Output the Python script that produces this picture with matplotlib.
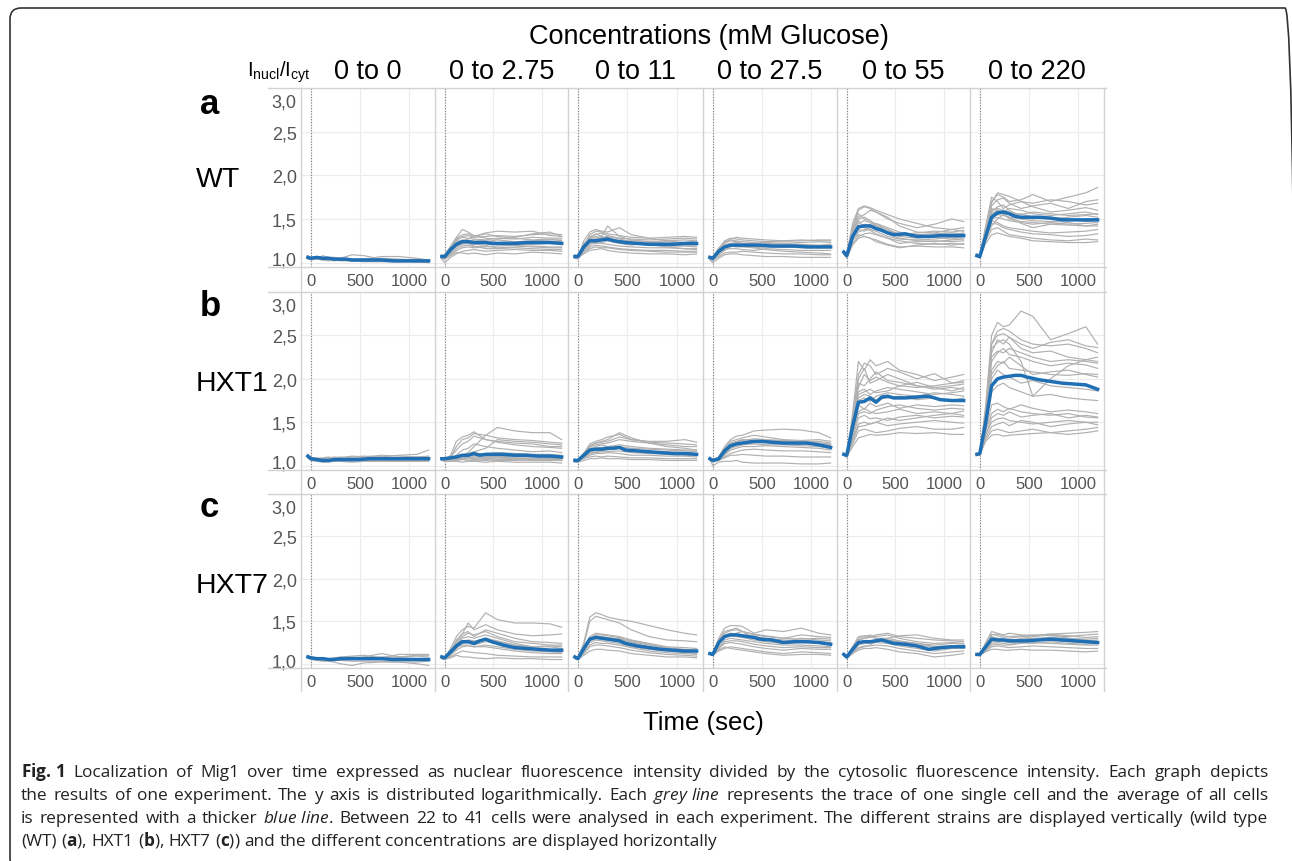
import re
import matplotlib
matplotlib.use("Agg")
import matplotlib.pyplot as plt
from matplotlib.lines import Line2D
from matplotlib.patches import FancyBboxPatch
from matplotlib.transforms import IdentityTransform, ScaledTranslation

# time axis (sec)
t_mean = [-30, 0, 60, 120, 180, 240, 300, 360, 420, 480, 600, 720, 840, 960, 1080, 1200]
t_cell = [-30, 0, 60, 120, 180, 240, 300, 420, 540, 720, 900, 1080, 1200]

concentrations = ["0 to 0", "0 to 2.75", "0 to 11", "0 to 27.5", "0 to 55", "0 to 220"]
strains = ["WT", "HXT1", "HXT7"]
panel_letters = ["a", "b", "c"]
y_ticks = [1.0, 1.5, 2.0, 2.5, 3.0]
y_ticklabels = ["1,0", "1,5", "2,0", "2,5", "3,0"]
x_ticks = [0, 500, 1000]

# average of all cells (blue line), one list per concentration
wt_mean = [
    [1.06, 1.05, 1.06, 1.05, 1.05, 1.04, 1.04, 1.04, 1.03, 1.03, 1.03, 1.03, 1.02, 1.02, 1.02, 1.02],
    [1.07, 1.07, 1.15, 1.21, 1.24, 1.24, 1.23, 1.23, 1.23, 1.22, 1.22, 1.22, 1.23, 1.23, 1.23, 1.22],
    [1.07, 1.07, 1.18, 1.25, 1.25, 1.26, 1.27, 1.25, 1.24, 1.23, 1.22, 1.21, 1.21, 1.21, 1.22, 1.22],
    [1.06, 1.05, 1.13, 1.18, 1.20, 1.20, 1.20, 1.20, 1.20, 1.20, 1.19, 1.19, 1.19, 1.18, 1.18, 1.18],
    [1.12, 1.08, 1.30, 1.41, 1.42, 1.42, 1.39, 1.37, 1.34, 1.32, 1.33, 1.30, 1.30, 1.31, 1.31, 1.31],
    [1.08, 1.07, 1.30, 1.52, 1.57, 1.58, 1.56, 1.53, 1.52, 1.52, 1.52, 1.51, 1.49, 1.49, 1.49, 1.49],
]
hxt1_mean = [
    [1.11, 1.08, 1.07, 1.06, 1.06, 1.07, 1.07, 1.07, 1.07, 1.07, 1.08, 1.08, 1.08, 1.08, 1.08, 1.08],
    [1.08, 1.08, 1.09, 1.10, 1.12, 1.12, 1.14, 1.12, 1.13, 1.13, 1.13, 1.12, 1.12, 1.11, 1.11, 1.10],
    [1.06, 1.06, 1.12, 1.18, 1.19, 1.19, 1.20, 1.20, 1.21, 1.18, 1.17, 1.16, 1.15, 1.14, 1.14, 1.13],
    [1.08, 1.06, 1.08, 1.17, 1.23, 1.25, 1.26, 1.27, 1.28, 1.28, 1.27, 1.26, 1.26, 1.26, 1.24, 1.21],
    [1.13, 1.12, 1.45, 1.73, 1.74, 1.78, 1.73, 1.79, 1.80, 1.78, 1.78, 1.79, 1.80, 1.76, 1.75, 1.75],
    [1.13, 1.14, 1.50, 1.92, 2.00, 2.02, 2.03, 2.04, 2.04, 2.02, 1.99, 1.97, 1.95, 1.94, 1.93, 1.88],
]
hxt7_mean = [
    [1.08, 1.07, 1.06, 1.06, 1.05, 1.05, 1.06, 1.06, 1.06, 1.06, 1.06, 1.06, 1.05, 1.05, 1.05, 1.05],
    [1.08, 1.07, 1.14, 1.21, 1.26, 1.26, 1.24, 1.27, 1.29, 1.26, 1.22, 1.19, 1.18, 1.17, 1.16, 1.16],
    [1.08, 1.06, 1.18, 1.29, 1.31, 1.30, 1.29, 1.28, 1.27, 1.24, 1.21, 1.19, 1.17, 1.16, 1.15, 1.15],
    [1.12, 1.11, 1.25, 1.32, 1.34, 1.34, 1.33, 1.32, 1.31, 1.29, 1.28, 1.25, 1.26, 1.26, 1.25, 1.23],
    [1.11, 1.08, 1.17, 1.25, 1.26, 1.26, 1.27, 1.28, 1.26, 1.24, 1.23, 1.21, 1.17, 1.19, 1.20, 1.20],
    [1.11, 1.11, 1.20, 1.29, 1.28, 1.28, 1.27, 1.27, 1.27, 1.27, 1.28, 1.29, 1.28, 1.27, 1.26, 1.25],
]

# single cell traces (grey lines), per concentration
wt_cells = [
    [
        [1.06, 1.04, 1.05, 1.03, 1.03, 1.02, 1.03, 1.02, 1.02, 1.02, 1.02, 1.01, 1.01],
        [1.07, 1.06, 1.07, 1.05, 1.06, 1.05, 1.04, 1.04, 1.03, 1.05, 1.04, 1.03, 1.03],
        [1.05, 1.05, 1.04, 1.08, 1.06, 1.06, 1.05, 1.09, 1.08, 1.04, 1.03, 1.04, 1.02],
        [1.04, 1.03, 1.04, 1.03, 1.02, 1.03, 1.02, 1.02, 1.01, 1.01, 1.01, 1.01, 1.00],
        [1.08, 1.06, 1.06, 1.06, 1.05, 1.05, 1.05, 1.04, 1.04, 1.07, 1.07, 1.05, 1.03],
        [1.05, 1.04, 1.05, 1.04, 1.04, 1.04, 1.03, 1.03, 1.03, 1.02, 1.02, 1.02, 1.02],
        [1.06, 1.05, 1.05, 1.04, 1.05, 1.04, 1.04, 1.03, 1.04, 1.03, 1.03, 1.03, 1.02],
    ],
    [
        [1.08, 1.05, 1.18, 1.28, 1.32, 1.33, 1.30, 1.34, 1.36, 1.35, 1.36, 1.31, 1.30],
        [1.06, 1.07, 1.12, 1.22, 1.25, 1.27, 1.30, 1.33, 1.30, 1.28, 1.26, 1.27, 1.25],
        [1.07, 1.08, 1.14, 1.20, 1.24, 1.22, 1.21, 1.20, 1.22, 1.20, 1.21, 1.22, 1.21],
        [1.05, 1.06, 1.10, 1.16, 1.19, 1.20, 1.18, 1.19, 1.17, 1.18, 1.19, 1.18, 1.18],
        [1.09, 1.08, 1.16, 1.24, 1.26, 1.25, 1.24, 1.24, 1.26, 1.24, 1.25, 1.26, 1.26],
        [1.04, 1.00, 1.06, 1.10, 1.13, 1.14, 1.15, 1.13, 1.14, 1.15, 1.14, 1.14, 1.13],
        [1.06, 1.07, 1.13, 1.18, 1.21, 1.22, 1.19, 1.16, 1.16, 1.17, 1.16, 1.15, 1.15],
        [1.08, 1.09, 1.19, 1.29, 1.38, 1.35, 1.31, 1.28, 1.27, 1.29, 1.33, 1.35, 1.30],
        [1.05, 1.04, 1.08, 1.12, 1.11, 1.10, 1.11, 1.09, 1.11, 1.10, 1.12, 1.11, 1.10],
        [1.07, 1.06, 1.15, 1.25, 1.30, 1.31, 1.29, 1.30, 1.31, 1.30, 1.32, 1.33, 1.32],
        [1.06, 1.05, 1.11, 1.19, 1.22, 1.24, 1.26, 1.25, 1.23, 1.24, 1.23, 1.24, 1.24],
        [1.08, 1.07, 1.17, 1.27, 1.29, 1.28, 1.27, 1.26, 1.28, 1.27, 1.29, 1.28, 1.28],
        [1.05, 1.04, 1.09, 1.14, 1.17, 1.18, 1.17, 1.18, 1.19, 1.20, 1.18, 1.17, 1.17],
    ],
    [
        [1.07, 1.06, 1.25, 1.35, 1.38, 1.36, 1.35, 1.40, 1.32, 1.28, 1.25, 1.23, 1.25],
        [1.08, 1.07, 1.20, 1.28, 1.33, 1.30, 1.42, 1.30, 1.26, 1.24, 1.22, 1.23, 1.22],
        [1.06, 1.05, 1.15, 1.22, 1.24, 1.26, 1.27, 1.24, 1.22, 1.20, 1.19, 1.19, 1.18],
        [1.07, 1.08, 1.18, 1.30, 1.32, 1.34, 1.31, 1.28, 1.27, 1.26, 1.27, 1.28, 1.27],
        [1.05, 1.04, 1.12, 1.18, 1.20, 1.19, 1.18, 1.16, 1.15, 1.14, 1.14, 1.13, 1.13],
        [1.08, 1.07, 1.22, 1.26, 1.27, 1.29, 1.30, 1.27, 1.24, 1.20, 1.19, 1.20, 1.20],
        [1.06, 1.06, 1.10, 1.14, 1.15, 1.16, 1.14, 1.12, 1.11, 1.10, 1.10, 1.09, 1.10],
        [1.09, 1.08, 1.19, 1.24, 1.22, 1.23, 1.25, 1.22, 1.20, 1.23, 1.24, 1.22, 1.21],
        [1.07, 1.06, 1.16, 1.27, 1.30, 1.28, 1.29, 1.25, 1.23, 1.21, 1.18, 1.16, 1.15],
        [1.07, 1.06, 1.20, 1.32, 1.36, 1.35, 1.33, 1.31, 1.29, 1.28, 1.29, 1.30, 1.29],
        [1.06, 1.05, 1.14, 1.20, 1.23, 1.22, 1.21, 1.19, 1.18, 1.17, 1.17, 1.16, 1.16],
        [1.08, 1.07, 1.21, 1.29, 1.28, 1.30, 1.27, 1.25, 1.25, 1.24, 1.25, 1.26, 1.25],
        [1.05, 1.05, 1.12, 1.16, 1.18, 1.17, 1.17, 1.15, 1.14, 1.13, 1.12, 1.12, 1.12],
    ],
    [
        [1.06, 1.04, 1.16, 1.25, 1.28, 1.27, 1.26, 1.25, 1.24, 1.25, 1.25, 1.26, 1.26],
        [1.05, 1.06, 1.13, 1.20, 1.22, 1.23, 1.21, 1.20, 1.21, 1.22, 1.21, 1.20, 1.21],
        [1.07, 1.05, 1.10, 1.15, 1.16, 1.16, 1.15, 1.14, 1.16, 1.15, 1.14, 1.14, 1.14],
        [1.04, 1.03, 1.07, 1.11, 1.12, 1.12, 1.13, 1.12, 1.11, 1.10, 1.10, 1.09, 1.09],
        [1.06, 1.05, 1.15, 1.24, 1.26, 1.25, 1.24, 1.23, 1.22, 1.21, 1.20, 1.19, 1.18],
        [1.05, 1.02, 1.09, 1.14, 1.18, 1.20, 1.19, 1.17, 1.15, 1.13, 1.12, 1.11, 1.10],
        [1.07, 1.06, 1.17, 1.22, 1.25, 1.24, 1.22, 1.22, 1.23, 1.24, 1.23, 1.24, 1.23],
        [1.03, 1.00, 1.05, 1.09, 1.10, 1.10, 1.09, 1.08, 1.07, 1.07, 1.06, 1.06, 1.06],
        [1.06, 1.05, 1.14, 1.22, 1.27, 1.29, 1.28, 1.27, 1.26, 1.25, 1.26, 1.25, 1.25],
        [1.07, 1.06, 1.12, 1.18, 1.19, 1.18, 1.18, 1.17, 1.18, 1.18, 1.17, 1.17, 1.17],
        [1.05, 1.04, 1.11, 1.16, 1.20, 1.22, 1.21, 1.20, 1.19, 1.18, 1.18, 1.19, 1.20],
    ],
    [
        [1.13, 1.10, 1.40, 1.60, 1.64, 1.62, 1.58, 1.52, 1.42, 1.35, 1.34, 1.38, 1.36],
        [1.12, 1.08, 1.35, 1.52, 1.55, 1.60, 1.58, 1.50, 1.45, 1.40, 1.44, 1.50, 1.47],
        [1.10, 1.07, 1.30, 1.45, 1.48, 1.46, 1.42, 1.34, 1.30, 1.28, 1.30, 1.31, 1.32],
        [1.14, 1.09, 1.35, 1.48, 1.40, 1.38, 1.36, 1.30, 1.27, 1.26, 1.27, 1.29, 1.28],
        [1.11, 1.06, 1.25, 1.35, 1.38, 1.37, 1.33, 1.28, 1.22, 1.24, 1.25, 1.24, 1.25],
        [1.12, 1.08, 1.28, 1.38, 1.36, 1.40, 1.45, 1.40, 1.35, 1.31, 1.30, 1.32, 1.34],
        [1.10, 1.05, 1.20, 1.28, 1.30, 1.28, 1.26, 1.21, 1.18, 1.19, 1.18, 1.18, 1.17],
        [1.13, 1.09, 1.38, 1.56, 1.50, 1.48, 1.42, 1.38, 1.32, 1.30, 1.29, 1.27, 1.30],
        [1.12, 1.08, 1.30, 1.42, 1.44, 1.43, 1.40, 1.36, 1.33, 1.32, 1.33, 1.34, 1.33],
        [1.11, 1.07, 1.26, 1.32, 1.30, 1.28, 1.24, 1.20, 1.17, 1.20, 1.22, 1.20, 1.22],
        [1.12, 1.09, 1.45, 1.62, 1.65, 1.63, 1.60, 1.55, 1.50, 1.45, 1.40, 1.38, 1.40],
        [1.11, 1.08, 1.32, 1.50, 1.52, 1.48, 1.44, 1.38, 1.32, 1.34, 1.36, 1.35, 1.37],
        [1.13, 1.07, 1.28, 1.40, 1.42, 1.44, 1.40, 1.33, 1.28, 1.25, 1.24, 1.26, 1.27],
        [1.10, 1.06, 1.22, 1.30, 1.33, 1.34, 1.32, 1.28, 1.25, 1.22, 1.21, 1.22, 1.21],
    ],
    [
        [1.09, 1.07, 1.40, 1.70, 1.78, 1.75, 1.70, 1.72, 1.78, 1.70, 1.75, 1.80, 1.86],
        [1.08, 1.06, 1.35, 1.65, 1.72, 1.74, 1.68, 1.62, 1.65, 1.68, 1.62, 1.70, 1.72],
        [1.10, 1.08, 1.38, 1.60, 1.62, 1.60, 1.58, 1.55, 1.58, 1.56, 1.54, 1.55, 1.56],
        [1.07, 1.05, 1.30, 1.52, 1.55, 1.54, 1.52, 1.50, 1.48, 1.47, 1.48, 1.49, 1.50],
        [1.09, 1.08, 1.32, 1.48, 1.46, 1.42, 1.40, 1.38, 1.36, 1.34, 1.35, 1.36, 1.38],
        [1.08, 1.06, 1.25, 1.38, 1.40, 1.36, 1.32, 1.30, 1.28, 1.26, 1.25, 1.27, 1.26],
        [1.10, 1.07, 1.42, 1.75, 1.70, 1.62, 1.66, 1.70, 1.64, 1.58, 1.60, 1.63, 1.60],
        [1.07, 1.06, 1.28, 1.42, 1.50, 1.55, 1.52, 1.45, 1.40, 1.44, 1.46, 1.42, 1.44],
        [1.09, 1.07, 1.36, 1.58, 1.64, 1.66, 1.60, 1.52, 1.50, 1.52, 1.50, 1.47, 1.48],
        [1.08, 1.05, 1.22, 1.32, 1.34, 1.32, 1.30, 1.28, 1.25, 1.24, 1.23, 1.23, 1.24],
        [1.10, 1.08, 1.40, 1.62, 1.60, 1.56, 1.50, 1.47, 1.46, 1.44, 1.43, 1.42, 1.42],
        [1.08, 1.06, 1.38, 1.68, 1.80, 1.78, 1.76, 1.70, 1.68, 1.72, 1.70, 1.66, 1.68],
        [1.09, 1.07, 1.34, 1.56, 1.60, 1.58, 1.62, 1.60, 1.56, 1.54, 1.56, 1.58, 1.55],
        [1.07, 1.06, 1.30, 1.50, 1.52, 1.50, 1.48, 1.46, 1.44, 1.46, 1.44, 1.45, 1.46],
        [1.10, 1.08, 1.35, 1.55, 1.58, 1.57, 1.55, 1.56, 1.52, 1.50, 1.52, 1.54, 1.52],
        [1.08, 1.07, 1.28, 1.45, 1.44, 1.40, 1.38, 1.35, 1.33, 1.32, 1.30, 1.31, 1.33],
    ],
]
hxt1_cells = [
    [
        [1.12, 1.09, 1.08, 1.07, 1.08, 1.07, 1.08, 1.07, 1.08, 1.09, 1.08, 1.08, 1.09],
        [1.10, 1.08, 1.06, 1.05, 1.06, 1.06, 1.05, 1.06, 1.07, 1.06, 1.06, 1.07, 1.07],
        [1.11, 1.07, 1.07, 1.08, 1.09, 1.10, 1.09, 1.10, 1.11, 1.10, 1.12, 1.13, 1.18],
        [1.09, 1.06, 1.05, 1.04, 1.04, 1.05, 1.05, 1.04, 1.05, 1.05, 1.05, 1.06, 1.06],
        [1.12, 1.09, 1.09, 1.08, 1.07, 1.09, 1.10, 1.09, 1.09, 1.10, 1.09, 1.10, 1.10],
        [1.10, 1.07, 1.06, 1.06, 1.05, 1.06, 1.07, 1.06, 1.06, 1.07, 1.07, 1.06, 1.07],
        [1.11, 1.08, 1.07, 1.07, 1.06, 1.07, 1.08, 1.08, 1.07, 1.08, 1.08, 1.09, 1.08],
        [1.09, 1.07, 1.05, 1.05, 1.05, 1.05, 1.06, 1.05, 1.06, 1.06, 1.05, 1.05, 1.05],
        [1.12, 1.09, 1.08, 1.09, 1.10, 1.08, 1.09, 1.11, 1.10, 1.12, 1.11, 1.10, 1.11],
    ],
    [
        [1.08, 1.07, 1.12, 1.28, 1.33, 1.35, 1.39, 1.30, 1.28, 1.26, 1.25, 1.22, 1.22],
        [1.09, 1.08, 1.10, 1.22, 1.30, 1.32, 1.37, 1.35, 1.32, 1.30, 1.29, 1.27, 1.26],
        [1.07, 1.06, 1.08, 1.10, 1.12, 1.15, 1.22, 1.35, 1.44, 1.40, 1.38, 1.38, 1.30],
        [1.08, 1.07, 1.07, 1.08, 1.09, 1.09, 1.10, 1.10, 1.10, 1.09, 1.09, 1.08, 1.08],
        [1.06, 1.05, 1.06, 1.06, 1.07, 1.06, 1.06, 1.07, 1.06, 1.06, 1.07, 1.06, 1.06],
        [1.08, 1.07, 1.09, 1.12, 1.18, 1.20, 1.25, 1.22, 1.20, 1.18, 1.16, 1.17, 1.15],
        [1.07, 1.07, 1.07, 1.08, 1.08, 1.09, 1.08, 1.08, 1.09, 1.08, 1.07, 1.07, 1.07],
        [1.09, 1.08, 1.08, 1.09, 1.10, 1.11, 1.12, 1.11, 1.11, 1.10, 1.11, 1.10, 1.10],
        [1.07, 1.05, 1.05, 1.05, 1.04, 1.05, 1.05, 1.04, 1.05, 1.04, 1.04, 1.04, 1.03],
        [1.08, 1.07, 1.08, 1.10, 1.12, 1.14, 1.16, 1.20, 1.30, 1.28, 1.27, 1.25, 1.24],
        [1.08, 1.07, 1.10, 1.18, 1.25, 1.28, 1.34, 1.30, 1.27, 1.24, 1.22, 1.21, 1.20],
        [1.07, 1.06, 1.06, 1.07, 1.07, 1.08, 1.07, 1.06, 1.07, 1.07, 1.06, 1.06, 1.06],
        [1.08, 1.07, 1.08, 1.10, 1.11, 1.12, 1.14, 1.14, 1.15, 1.14, 1.13, 1.13, 1.12],
        [1.06, 1.06, 1.07, 1.08, 1.09, 1.10, 1.10, 1.09, 1.09, 1.08, 1.08, 1.08, 1.08],
    ],
    [
        [1.06, 1.05, 1.14, 1.25, 1.28, 1.30, 1.33, 1.36, 1.30, 1.28, 1.28, 1.30, 1.27],
        [1.07, 1.06, 1.15, 1.22, 1.24, 1.25, 1.26, 1.30, 1.28, 1.26, 1.24, 1.22, 1.22],
        [1.05, 1.04, 1.10, 1.16, 1.18, 1.18, 1.19, 1.20, 1.18, 1.16, 1.16, 1.15, 1.14],
        [1.06, 1.06, 1.08, 1.12, 1.14, 1.14, 1.15, 1.14, 1.12, 1.12, 1.11, 1.11, 1.10],
        [1.04, 1.04, 1.06, 1.08, 1.08, 1.09, 1.08, 1.08, 1.07, 1.07, 1.06, 1.06, 1.06],
        [1.06, 1.05, 1.12, 1.20, 1.22, 1.24, 1.22, 1.24, 1.22, 1.20, 1.19, 1.18, 1.18],
        [1.08, 1.06, 1.10, 1.14, 1.16, 1.17, 1.18, 1.20, 1.17, 1.15, 1.14, 1.13, 1.13],
        [1.05, 1.05, 1.09, 1.10, 1.11, 1.10, 1.11, 1.10, 1.09, 1.09, 1.08, 1.08, 1.08],
        [1.07, 1.06, 1.13, 1.22, 1.26, 1.28, 1.30, 1.38, 1.32, 1.26, 1.22, 1.20, 1.18],
        [1.06, 1.05, 1.13, 1.23, 1.26, 1.27, 1.28, 1.33, 1.30, 1.27, 1.26, 1.25, 1.24],
        [1.05, 1.05, 1.09, 1.14, 1.15, 1.16, 1.16, 1.17, 1.15, 1.14, 1.13, 1.12, 1.12],
        [1.07, 1.06, 1.11, 1.18, 1.20, 1.21, 1.22, 1.22, 1.20, 1.19, 1.18, 1.17, 1.16],
    ],
    [
        [1.08, 1.06, 1.10, 1.22, 1.30, 1.34, 1.35, 1.40, 1.41, 1.42, 1.41, 1.38, 1.32],
        [1.07, 1.05, 1.08, 1.20, 1.28, 1.30, 1.32, 1.35, 1.33, 1.30, 1.29, 1.30, 1.28],
        [1.09, 1.06, 1.07, 1.14, 1.22, 1.25, 1.27, 1.28, 1.29, 1.28, 1.27, 1.26, 1.25],
        [1.06, 1.05, 1.06, 1.12, 1.18, 1.20, 1.22, 1.22, 1.23, 1.22, 1.21, 1.20, 1.18],
        [1.08, 1.04, 1.06, 1.10, 1.14, 1.16, 1.18, 1.19, 1.18, 1.17, 1.17, 1.16, 1.15],
        [1.07, 1.00, 1.04, 1.05, 1.05, 1.06, 1.04, 1.03, 1.03, 1.03, 1.02, 1.02, 1.03],
        [1.08, 1.06, 1.09, 1.18, 1.26, 1.28, 1.30, 1.29, 1.27, 1.26, 1.27, 1.26, 1.24],
        [1.07, 1.06, 1.06, 1.09, 1.12, 1.12, 1.13, 1.12, 1.11, 1.11, 1.10, 1.10, 1.10],
        [1.08, 1.05, 1.08, 1.16, 1.24, 1.27, 1.29, 1.31, 1.30, 1.29, 1.28, 1.28, 1.26],
        [1.07, 1.06, 1.07, 1.13, 1.20, 1.22, 1.24, 1.25, 1.24, 1.24, 1.23, 1.22, 1.20],
        [1.09, 1.05, 1.07, 1.15, 1.20, 1.24, 1.26, 1.26, 1.27, 1.26, 1.25, 1.25, 1.23],
    ],
    [
        [1.13, 1.12, 1.60, 2.20, 2.10, 2.22, 2.15, 2.20, 2.10, 2.05, 1.98, 2.02, 2.05],
        [1.12, 1.10, 1.55, 2.05, 2.18, 2.15, 2.05, 2.12, 2.08, 2.00, 2.06, 1.95, 1.98],
        [1.14, 1.12, 1.50, 1.95, 1.92, 2.00, 2.08, 1.98, 1.96, 1.92, 1.90, 1.92, 1.94],
        [1.13, 1.11, 1.45, 1.85, 1.88, 1.82, 1.86, 1.90, 1.88, 1.85, 1.82, 1.84, 1.86],
        [1.12, 1.10, 1.48, 1.78, 1.82, 1.80, 1.76, 1.78, 1.80, 1.76, 1.78, 1.75, 1.78],
        [1.14, 1.12, 1.40, 1.70, 1.65, 1.72, 1.68, 1.72, 1.66, 1.70, 1.68, 1.70, 1.69],
        [1.13, 1.11, 1.38, 1.62, 1.66, 1.62, 1.60, 1.62, 1.65, 1.60, 1.62, 1.60, 1.63],
        [1.12, 1.10, 1.32, 1.55, 1.58, 1.54, 1.55, 1.52, 1.56, 1.58, 1.55, 1.57, 1.56],
        [1.13, 1.12, 1.30, 1.48, 1.50, 1.48, 1.50, 1.46, 1.48, 1.50, 1.52, 1.50, 1.49],
        [1.12, 1.11, 1.25, 1.40, 1.42, 1.40, 1.38, 1.40, 1.43, 1.45, 1.42, 1.42, 1.44],
        [1.13, 1.10, 1.22, 1.32, 1.34, 1.36, 1.35, 1.36, 1.38, 1.37, 1.38, 1.36, 1.36],
        [1.14, 1.11, 1.50, 2.00, 2.12, 1.95, 1.98, 2.05, 2.00, 1.92, 1.88, 1.90, 1.88],
        [1.13, 1.11, 1.52, 1.90, 2.05, 1.98, 2.02, 1.96, 1.92, 1.96, 1.90, 1.86, 1.90],
        [1.12, 1.10, 1.42, 1.75, 1.78, 1.74, 1.80, 1.84, 1.82, 1.80, 1.84, 1.82, 1.80],
        [1.14, 1.11, 1.36, 1.60, 1.62, 1.60, 1.64, 1.68, 1.70, 1.66, 1.64, 1.66, 1.65],
        [1.13, 1.12, 1.28, 1.45, 1.46, 1.48, 1.50, 1.55, 1.52, 1.55, 1.58, 1.60, 1.58],
        [1.12, 1.10, 1.46, 1.82, 1.85, 1.88, 1.84, 1.86, 1.92, 1.90, 1.92, 1.95, 1.96],
    ],
    [
        [1.14, 1.12, 1.70, 2.50, 2.65, 2.60, 2.62, 2.78, 2.72, 2.45, 2.52, 2.60, 2.40],
        [1.13, 1.14, 1.65, 2.40, 2.55, 2.58, 2.55, 2.45, 2.40, 2.38, 2.40, 2.35, 2.30],
        [1.12, 1.13, 1.60, 2.30, 2.45, 2.40, 2.48, 2.35, 2.30, 2.32, 2.25, 2.22, 2.20],
        [1.14, 1.12, 1.55, 2.20, 2.30, 2.35, 2.28, 2.25, 2.20, 2.15, 2.18, 2.16, 2.12],
        [1.13, 1.14, 1.50, 2.10, 2.20, 2.18, 2.25, 2.15, 2.05, 2.08, 2.10, 2.05, 2.02],
        [1.12, 1.13, 1.45, 2.00, 2.10, 2.05, 2.02, 1.95, 1.98, 1.92, 1.90, 1.88, 1.86],
        [1.14, 1.12, 1.45, 1.85, 1.92, 1.95, 1.90, 1.85, 1.80, 1.82, 1.78, 1.76, 1.75],
        [1.13, 1.14, 1.40, 1.70, 1.72, 1.68, 1.65, 1.70, 1.66, 1.62, 1.64, 1.62, 1.60],
        [1.12, 1.13, 1.35, 1.55, 1.60, 1.58, 1.62, 1.56, 1.58, 1.60, 1.55, 1.58, 1.56],
        [1.14, 1.12, 1.32, 1.45, 1.48, 1.50, 1.46, 1.52, 1.50, 1.45, 1.48, 1.50, 1.47],
        [1.13, 1.12, 1.30, 1.40, 1.42, 1.40, 1.38, 1.40, 1.42, 1.38, 1.40, 1.42, 1.44],
        [1.12, 1.13, 1.28, 1.35, 1.36, 1.34, 1.35, 1.36, 1.37, 1.38, 1.36, 1.38, 1.40],
        [1.13, 1.12, 1.60, 2.35, 2.42, 2.45, 2.40, 2.20, 1.80, 2.00, 2.15, 2.22, 2.25],
        [1.13, 1.12, 1.62, 2.40, 2.50, 2.52, 2.48, 2.40, 2.35, 2.42, 2.45, 2.38, 2.36],
        [1.12, 1.13, 1.55, 2.25, 2.32, 2.30, 2.35, 2.30, 2.25, 2.20, 2.22, 2.20, 2.18],
        [1.14, 1.12, 1.40, 1.60, 1.65, 1.62, 1.66, 1.62, 1.60, 1.58, 1.60, 1.56, 1.55],
        [1.13, 1.13, 1.36, 1.50, 1.54, 1.55, 1.52, 1.50, 1.48, 1.50, 1.52, 1.50, 1.50],
        [1.12, 1.12, 1.50, 2.05, 2.15, 2.20, 2.12, 2.10, 2.08, 2.05, 2.04, 2.06, 2.05],
    ],
]
hxt7_cells = [
    [
        [1.09, 1.07, 1.06, 1.05, 1.05, 1.05, 1.06, 1.07, 1.08, 1.12, 1.08, 1.10, 1.10],
        [1.08, 1.06, 1.05, 1.04, 1.04, 1.05, 1.05, 1.06, 1.05, 1.06, 1.05, 1.04, 1.04],
        [1.10, 1.08, 1.07, 1.07, 1.06, 1.06, 1.07, 1.08, 1.07, 1.08, 1.08, 1.09, 1.08],
        [1.07, 1.05, 1.04, 1.03, 1.03, 1.02, 1.00, 0.98, 1.01, 1.02, 1.02, 1.00, 0.98],
        [1.08, 1.07, 1.06, 1.06, 1.06, 1.07, 1.08, 1.09, 1.10, 1.07, 1.11, 1.11, 1.11],
        [1.09, 1.06, 1.04, 1.04, 1.04, 1.04, 1.04, 1.03, 1.03, 1.03, 1.02, 1.02, 1.03],
        [1.08, 1.06, 1.05, 1.05, 1.05, 1.06, 1.06, 1.05, 1.06, 1.06, 1.07, 1.06, 1.06],
        [1.09, 1.07, 1.06, 1.05, 1.06, 1.05, 1.06, 1.06, 1.07, 1.06, 1.06, 1.05, 1.05],
    ],
    [
        [1.09, 1.07, 1.18, 1.32, 1.40, 1.44, 1.42, 1.60, 1.52, 1.48, 1.48, 1.47, 1.43],
        [1.08, 1.07, 1.15, 1.28, 1.35, 1.48, 1.40, 1.46, 1.40, 1.35, 1.33, 1.34, 1.35],
        [1.07, 1.06, 1.13, 1.22, 1.30, 1.32, 1.30, 1.34, 1.30, 1.24, 1.20, 1.20, 1.18],
        [1.08, 1.07, 1.12, 1.20, 1.24, 1.25, 1.22, 1.26, 1.24, 1.20, 1.18, 1.17, 1.16],
        [1.06, 1.05, 1.10, 1.16, 1.20, 1.21, 1.20, 1.22, 1.20, 1.17, 1.15, 1.14, 1.13],
        [1.09, 1.08, 1.14, 1.24, 1.32, 1.36, 1.34, 1.38, 1.32, 1.26, 1.24, 1.22, 1.22],
        [1.07, 1.06, 1.08, 1.12, 1.15, 1.14, 1.13, 1.12, 1.10, 1.09, 1.08, 1.08, 1.08],
        [1.08, 1.07, 1.12, 1.18, 1.26, 1.28, 1.27, 1.28, 1.26, 1.22, 1.20, 1.21, 1.20],
        [1.06, 1.05, 1.07, 1.10, 1.08, 1.08, 1.07, 1.06, 1.07, 1.06, 1.06, 1.05, 1.05],
        [1.07, 1.06, 1.14, 1.26, 1.35, 1.38, 1.32, 1.40, 1.36, 1.30, 1.26, 1.25, 1.24],
        [1.08, 1.07, 1.12, 1.20, 1.22, 1.22, 1.20, 1.20, 1.18, 1.15, 1.13, 1.12, 1.12],
        [1.06, 1.06, 1.10, 1.18, 1.24, 1.26, 1.25, 1.30, 1.27, 1.22, 1.18, 1.17, 1.17],
    ],
    [
        [1.09, 1.07, 1.25, 1.55, 1.60, 1.58, 1.55, 1.52, 1.50, 1.45, 1.40, 1.36, 1.34],
        [1.08, 1.07, 1.22, 1.50, 1.56, 1.54, 1.52, 1.48, 1.40, 1.32, 1.28, 1.27, 1.26],
        [1.07, 1.06, 1.18, 1.32, 1.36, 1.35, 1.34, 1.32, 1.28, 1.24, 1.20, 1.19, 1.18],
        [1.08, 1.07, 1.20, 1.30, 1.33, 1.32, 1.31, 1.29, 1.26, 1.22, 1.18, 1.16, 1.15],
        [1.06, 1.05, 1.15, 1.25, 1.28, 1.27, 1.26, 1.24, 1.20, 1.17, 1.15, 1.13, 1.12],
        [1.07, 1.06, 1.12, 1.20, 1.22, 1.22, 1.21, 1.19, 1.16, 1.13, 1.11, 1.10, 1.09],
        [1.08, 1.06, 1.16, 1.27, 1.30, 1.30, 1.30, 1.28, 1.23, 1.19, 1.16, 1.14, 1.14],
        [1.07, 1.05, 1.10, 1.15, 1.17, 1.17, 1.16, 1.15, 1.12, 1.10, 1.08, 1.08, 1.07],
        [1.07, 1.06, 1.17, 1.30, 1.34, 1.34, 1.33, 1.31, 1.27, 1.23, 1.19, 1.17, 1.16],
        [1.08, 1.06, 1.19, 1.28, 1.32, 1.31, 1.30, 1.30, 1.25, 1.20, 1.17, 1.15, 1.15],
        [1.06, 1.05, 1.13, 1.22, 1.25, 1.24, 1.24, 1.22, 1.19, 1.15, 1.13, 1.12, 1.11],
    ],
    [
        [1.12, 1.11, 1.30, 1.42, 1.45, 1.45, 1.44, 1.36, 1.40, 1.38, 1.42, 1.36, 1.34],
        [1.11, 1.10, 1.28, 1.38, 1.40, 1.42, 1.38, 1.34, 1.32, 1.30, 1.34, 1.32, 1.31],
        [1.12, 1.11, 1.25, 1.34, 1.36, 1.35, 1.34, 1.32, 1.30, 1.28, 1.27, 1.26, 1.25],
        [1.11, 1.10, 1.20, 1.28, 1.30, 1.29, 1.28, 1.26, 1.24, 1.22, 1.22, 1.21, 1.20],
        [1.13, 1.11, 1.18, 1.24, 1.25, 1.24, 1.23, 1.20, 1.18, 1.16, 1.18, 1.17, 1.17],
        [1.12, 1.10, 1.15, 1.18, 1.20, 1.19, 1.18, 1.16, 1.14, 1.12, 1.14, 1.13, 1.12],
        [1.11, 1.10, 1.22, 1.32, 1.34, 1.36, 1.38, 1.30, 1.28, 1.26, 1.30, 1.28, 1.27],
        [1.12, 1.11, 1.16, 1.20, 1.18, 1.17, 1.16, 1.14, 1.12, 1.10, 1.11, 1.11, 1.10],
        [1.12, 1.11, 1.26, 1.36, 1.39, 1.40, 1.38, 1.35, 1.33, 1.30, 1.29, 1.30, 1.29],
        [1.11, 1.10, 1.24, 1.32, 1.33, 1.32, 1.31, 1.28, 1.26, 1.24, 1.25, 1.24, 1.22],
        [1.12, 1.10, 1.18, 1.26, 1.27, 1.27, 1.26, 1.23, 1.21, 1.19, 1.20, 1.19, 1.19],
    ],
    [
        [1.11, 1.08, 1.20, 1.32, 1.33, 1.32, 1.34, 1.36, 1.32, 1.30, 1.28, 1.27, 1.26],
        [1.10, 1.07, 1.18, 1.28, 1.30, 1.31, 1.32, 1.34, 1.30, 1.26, 1.24, 1.25, 1.24],
        [1.11, 1.08, 1.17, 1.25, 1.27, 1.27, 1.28, 1.28, 1.25, 1.22, 1.20, 1.21, 1.21],
        [1.12, 1.09, 1.15, 1.22, 1.24, 1.24, 1.25, 1.24, 1.21, 1.18, 1.15, 1.18, 1.19],
        [1.10, 1.07, 1.14, 1.19, 1.21, 1.21, 1.22, 1.21, 1.18, 1.15, 1.12, 1.14, 1.15],
        [1.11, 1.06, 1.12, 1.16, 1.18, 1.18, 1.19, 1.17, 1.14, 1.12, 1.08, 1.10, 1.12],
        [1.12, 1.08, 1.18, 1.30, 1.32, 1.34, 1.30, 1.28, 1.26, 1.24, 1.20, 1.20, 1.18],
        [1.10, 1.07, 1.13, 1.18, 1.20, 1.22, 1.26, 1.30, 1.33, 1.34, 1.30, 1.28, 1.28],
        [1.11, 1.08, 1.19, 1.28, 1.30, 1.32, 1.30, 1.30, 1.27, 1.24, 1.22, 1.24, 1.23],
        [1.10, 1.07, 1.16, 1.24, 1.25, 1.26, 1.28, 1.27, 1.23, 1.20, 1.17, 1.19, 1.20],
    ],
    [
        [1.12, 1.11, 1.25, 1.38, 1.36, 1.34, 1.36, 1.34, 1.33, 1.35, 1.36, 1.37, 1.38],
        [1.11, 1.10, 1.22, 1.34, 1.35, 1.33, 1.32, 1.33, 1.34, 1.33, 1.32, 1.34, 1.35],
        [1.12, 1.11, 1.20, 1.30, 1.30, 1.29, 1.28, 1.29, 1.30, 1.31, 1.30, 1.29, 1.30],
        [1.11, 1.10, 1.18, 1.26, 1.27, 1.26, 1.25, 1.26, 1.27, 1.28, 1.26, 1.25, 1.26],
        [1.10, 1.09, 1.16, 1.22, 1.23, 1.22, 1.22, 1.24, 1.25, 1.24, 1.23, 1.22, 1.22],
        [1.12, 1.11, 1.15, 1.20, 1.21, 1.20, 1.19, 1.20, 1.21, 1.20, 1.19, 1.18, 1.18],
        [1.11, 1.10, 1.14, 1.17, 1.17, 1.16, 1.16, 1.17, 1.16, 1.16, 1.15, 1.14, 1.15],
        [1.12, 1.11, 1.22, 1.32, 1.30, 1.28, 1.26, 1.30, 1.32, 1.34, 1.30, 1.28, 1.26],
        [1.11, 1.10, 1.24, 1.35, 1.33, 1.31, 1.30, 1.32, 1.33, 1.35, 1.33, 1.31, 1.32],
        [1.12, 1.11, 1.19, 1.28, 1.28, 1.27, 1.27, 1.27, 1.28, 1.29, 1.28, 1.27, 1.28],
        [1.11, 1.10, 1.17, 1.24, 1.25, 1.24, 1.23, 1.25, 1.24, 1.26, 1.24, 1.23, 1.24],
    ],
]

caption_lines = [
    r"$\mathbf{Fig.\,1}$ Localization of Mig1 over time expressed as nuclear fluorescence intensity divided by the cytosolic fluorescence intensity. Each graph depicts",
    r"the results of one experiment. The y axis is distributed logarithmically. Each $\mathit{grey\ line}$ represents the trace of one single cell and the average of all cells",
    r"is represented with a thicker $\mathit{blue\ line}$. Between 22 to 41 cells were analysed in each experiment. The different strains are displayed vertically (wild type",
    r"(WT) ($\mathbf{a}$), HXT1 ($\mathbf{b}$), HXT7 ($\mathbf{c}$)) and the different concentrations are displayed horizontally",
]

plt.rcParams["font.family"] = ["Liberation Sans", "DejaVu Sans"]
plt.rcParams["mathtext.fontset"] = "custom"
plt.rcParams["mathtext.rm"] = "Open Sans"
plt.rcParams["mathtext.it"] = "Open Sans:italic"
plt.rcParams["mathtext.bf"] = "Open Sans:bold"

W, H = 1292, 862
fig = plt.figure(figsize=(W / 100, H / 100), dpi=100)


def fx(x):
    return x / W


def fy(y):
    return 1 - y / H


col_x = [301, 435, 568, 703, 837, 970, 1104]
row_top = [89, 293, 495]
row_bot = [268, 471, 669]
row_mid = [180, 384, 586]
letter_y = [104, 306, 508]

grid_col = "#ececec"
sep_col = "#d2d2d2"
grey = "#b0b0b0"
blue = "#1f6fb4"
tick_col = "#555555"

means = [wt_mean, hxt1_mean, hxt7_mean]
cells = [wt_cells, hxt1_cells, hxt7_cells]

for r in range(3):
    for c in range(6):
        left, right = col_x[c], col_x[c + 1]
        ax = fig.add_axes([fx(left), fy(row_bot[r]), (right - left) / W,
                           (row_bot[r] - row_top[r]) / H])
        ax.set_xlim(-100, 1265)
        ax.set_ylim(0.95, 3.0)
        for s in ax.spines.values():
            s.set_visible(False)
        ax.set_xticks(x_ticks)
        ax.set_yticks(y_ticks)
        ax.grid(True, color=grid_col, lw=0.8)
        ax.set_axisbelow(True)
        ax.tick_params(axis="x", length=0, labelsize=12, labelcolor=tick_col, pad=4)
        ax.tick_params(axis="y", length=0, labelsize=13, labelcolor=tick_col, pad=3)
        if c == 0:
            ax.set_yticklabels(y_ticklabels)
            top_lab = ax.get_yticklabels()[-1]
            top_lab.set_va("top")
            top_lab.set_transform(top_lab.get_transform()
                                  + ScaledTranslation(0, -4 / 72, fig.dpi_scale_trans))
            low_lab = ax.get_yticklabels()[0]
            low_lab.set_transform(low_lab.get_transform()
                                  + ScaledTranslation(0, 3 / 72, fig.dpi_scale_trans))
        else:
            ax.set_yticklabels([])
        ax.axvline(0, color="#7a7a7a", ls=(0, (1, 1.5)), lw=0.8)
        for trace in cells[r][c]:
            ax.plot(t_cell, trace, color=grey, lw=0.85)
        ax.plot(t_mean, means[r][c], color=blue, lw=2.5, solid_joinstyle="round")

# frame lines between panels
for x in col_x:
    fig.add_artist(Line2D([fx(x), fx(x)], [fy(89), fy(692)], color=sep_col, lw=1))
for r in range(3):
    for y in (row_top[r], row_bot[r]):
        fig.add_artist(Line2D([fx(268), fx(1106)], [fy(y), fy(y)], color=sep_col, lw=1))

# headers
fig.text(fx(709), fy(37), "Concentrations (mM Glucose)", ha="center", va="center", fontsize=19.5)
for c, name in enumerate(concentrations):
    fig.text(fx((col_x[c] + col_x[c + 1]) / 2), fy(72), name, ha="center", va="center",
             fontsize=19.5)
fig.text(fx(247), fy(72), r"I$_{\mathregular{nucl}}$/I$_{\mathregular{cyt}}$",
         ha="left", va="center", fontsize=14.5)

for r in range(3):
    fig.text(fx(200), fy(letter_y[r]), panel_letters[r], fontsize=25, fontweight="bold",
             ha="left", va="center")
    fig.text(fx(196), fy(row_mid[r]), strains[r], fontsize=20.5, ha="left", va="center")

fig.text(fx(703), fy(723), "Time (sec)", ha="center", va="center", fontsize=18.5)

# caption, justified between x=21 and x=1268 (last line left aligned)
renderer = fig.canvas.get_renderer()
cap_size = 12.4
cap_left, cap_right = 21, 1268
for i, line in enumerate(caption_lines):
    # words; math segments ($...$) stay whole even if they contain spaces
    words = re.findall(r"(?:\$[^$]*\$|[^\s$])+", line)
    base_y = fy(777 + 23 * i)
    texts = [fig.text(0, base_y, w, ha="left", va="baseline", fontsize=cap_size,
                      family="Open Sans", color="#222222") for w in words]
    widths = [t.get_window_extent(renderer).width for t in texts]
    if i < len(caption_lines) - 1:
        gap = (cap_right - cap_left - sum(widths)) / (len(words) - 1)
    else:
        gap = 0.26 * cap_size * 100 / 72
    x = cap_left
    for t, w in zip(texts, widths):
        t.set_x(fx(x))
        x += w + gap

# rounded outer frame, in pixels
frame = FancyBboxPatch((10, H - 870), 1286, 870 - 9,
                       boxstyle="round,pad=0,rounding_size=11",
                       transform=IdentityTransform(), fill=False, ec="#333333", lw=1.2,
                       clip_on=False)
fig.add_artist(frame)

fig.savefig("out.png", dpi=100)
